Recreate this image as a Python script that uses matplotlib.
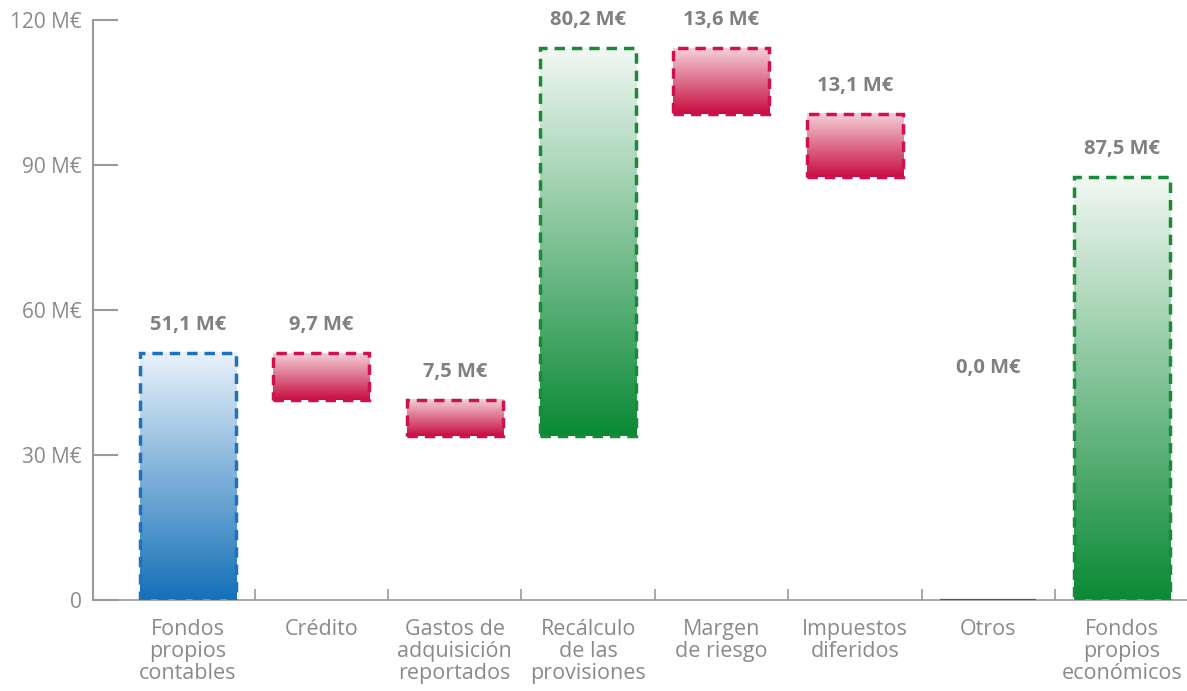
import matplotlib.pyplot as plt
import numpy as np
from matplotlib.colors import LinearSegmentedColormap
from matplotlib.patches import Rectangle

plt.rcParams['font.family'] = ['Open Sans', 'DejaVu Sans']

# --- Data ---
categories = ["Fondos\npropios\ncontables", "Crédito", "Gastos de\nadquisición\nreportados",
              "Recálculo\nde las\nprovisiones", "Margen\nde riesgo", "Impuestos\ndiferidos",
              "Otros", "Fondos\npropios\neconómicos"]
values = [51.1, -9.7, -7.5, 80.2, -13.6, -13.1, 0.0, 87.5]
is_total = [True, False, False, False, False, False, False, True]
y_ticks = [0, 30, 60, 90, 120]
y_tick_labels = ["0", "30 M€", "60 M€", "90 M€", "120 M€"]

# --- Styles ---
GREY_TXT = "#8a8a8a"
GREY_LBL = "#808080"
AXIS = "#9a9a9a"
styles = {
    "blue": ("#eaf2fa", "#1470b8", "#1f72bb"),
    "red": ("#f4d0d8", "#c70d3f", "#d01050"),
    "green": ("#f2f8f3", "#0a8a35", "#1a8a3a"),
}

fig = plt.figure(figsize=(11.87, 6.91), dpi=100)
ax = fig.add_axes([0.0783, 0.1317, 0.9217, 0.8683])

x = np.arange(len(categories))
width = 0.72
grad = np.linspace(0, 1, 256).reshape(-1, 1)

run = 0.0
for i, (v, tot) in enumerate(zip(values, is_total)):
    if tot:
        bottom, top = 0.0, v
        run = v
        key = "blue" if i == 0 else "green"
    else:
        bottom, top = min(run, run + v), max(run, run + v)
        run += v
        key = "green" if v > 0 else "red"

    label = f"{abs(v):.1f}".replace(".", ",") + " M€"
    if top - bottom == 0:
        # zero change: flat line on the baseline, label floats mid-height
        ax.hlines(0, x[i] - width / 2, x[i] + width / 2, color="#555555", lw=1.6, zorder=3)
        ax.text(x[i], 48, label, ha="center", va="center", fontsize=14.5,
                fontweight="bold", color=GREY_LBL)
        continue

    light, dark, edge = styles[key]
    cmap = LinearSegmentedColormap.from_list(key, [light, dark])
    ax.imshow(grad, extent=[x[i] - width / 2, x[i] + width / 2, bottom, top],
              cmap=cmap, aspect="auto", zorder=2, interpolation="bilinear")
    ax.add_patch(Rectangle((x[i] - width / 2, bottom), width, top - bottom,
                           fill=False, edgecolor=edge, lw=2.5,
                           linestyle=(0, (3.0, 2.0)), zorder=3))
    ax.text(x[i], top + 5.8, label, ha="center", va="center", fontsize=14.5,
            fontweight="bold", color=GREY_LBL)

# --- Axes styling ---
ax.set_xlim(-0.712, 7.49)
ax.set_ylim(0, 124.1)

for s in ["top", "right"]:
    ax.spines[s].set_visible(False)
ax.spines["left"].set_bounds(0, 120)
ax.spines["left"].set_color(AXIS)
ax.spines["left"].set_linewidth(1.5)
ax.spines["bottom"].set_color(AXIS)
ax.spines["bottom"].set_linewidth(1.2)

ax.set_yticks(y_ticks)
ax.set_yticklabels(y_tick_labels)
ax.tick_params(axis="y", direction="in", length=18, width=1.5, color=AXIS,
               labelsize=15, labelcolor=GREY_TXT, pad=8)

ax.set_xticks(x)
ax.set_xticklabels(categories, linespacing=1.05)
ax.tick_params(axis="x", length=0, labelsize=15.5, labelcolor=GREY_TXT, pad=14)
ax.set_xticks(x[:-1] + 0.5, minor=True)
ax.tick_params(axis="x", which="minor", direction="in", length=8, width=1.2, color=AXIS)

for lbl in ax.get_xticklabels():
    lbl.set_verticalalignment("top")

plt.savefig("out.png", dpi=100)
plt.close()
